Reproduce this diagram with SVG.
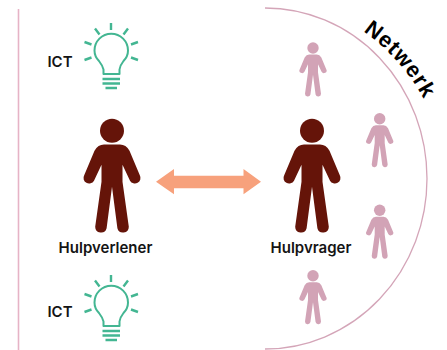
<svg xmlns="http://www.w3.org/2000/svg" width="447" height="350" viewBox="0 0 447 350">
<style>
.lbl{font-family:"Inter","Liberation Sans",sans-serif;font-weight:600;font-size:15px;fill:#141414;text-anchor:middle}
.bulb{fill:none;stroke:#43b692;stroke-width:2;stroke-linejoin:round}
.ray{stroke:#43b692;stroke-width:2.400;fill:none}
</style>
<defs>
<g id="person">
<circle cx="0" cy="0" r="12" fill="currentColor"/>
<path fill="currentColor" d="M-8 13.700H8Q14 13.700 17.500 20L27.800 44.500A5.300 5.300 0 0 1 18 50L10.500 34V51L16.800 96A5.800 5.800 0 0 1 5.400 97.500L0 56-5.400 97.500A5.800 5.800 0 0 1-16.800 96L-10.500 51V34L-18 50A5.300 5.300 0 0 1-27.800 44.500L-17.500 20Q-14 13.700-8 13.700Z"/>
</g>
<g id="bulbicon">
<path class="bulb" d="M103.500 74V69.500Q102.500 65.500 99 61Q94.500 56.500 94.500 50.500A16.700 16.700 0 0 1 128 50.500Q128 56.500 123.500 61Q120 65.500 119.500 69.500V74Z"/>
<path class="ray" d="M111 23V30M95 28.500L99.500 34.500M128 28.500L123.500 34.500M84.500 42L91.500 44.500M138 42L131 44.500M84.500 60L91.500 57.500M138 60L131 57.500M102.500 79H120M102.500 83.500H120M105.500 88H117"/>
</g>
<path id="netcurve" d="M363 31Q409 64 431 114"/>
</defs>
<g id="connectors">
<path d="M18.500 9V350" fill="none" stroke="#e6b3c6" stroke-width="1.600"/>
<path d="M265 8A162 170.500 0 0 1 265 349" fill="none" stroke="#d4a5b8" stroke-width="1.300"/>
<path id="arrow" d="M156 181.700L174 169V175.700H243.500V169L261 181.700 243.500 194.300V188.300H174V194.300Z" fill="#f7a17c"/>
</g>
<g id="hulpverlener" style="color:#651409">
<use href="#person" x="112" y="130.700"/>
<text class="lbl" x="105.500" y="252.700">Hulpverlener</text>
</g>
<g id="hulpvrager" style="color:#651409">
<use href="#person" x="312" y="130.700"/>
<text class="lbl" x="311" y="252.700">Hulpvrager</text>
</g>
<g id="ict-top"><use href="#bulbicon"/><text class="lbl" x="60" y="66.500">ICT</text></g>
<g id="ict-bottom"><use href="#bulbicon" y="252"/><text class="lbl" x="60" y="317">ICT</text></g>
<g id="net-1" style="color:#d2a3b6"><use href="#person" transform="translate(313 48) scale(.476)"/></g>
<g id="net-2" style="color:#d2a3b6"><use href="#person" transform="translate(379.700 118.700) scale(.476)"/></g>
<g id="net-3" style="color:#d2a3b6"><use href="#person" transform="translate(379.700 210.300) scale(.476)"/></g>
<g id="net-4" style="color:#d2a3b6"><use href="#person" transform="translate(313 275.700) scale(.476)"/></g>
<g id="netwerk"><text font-family="Liberation Sans,sans-serif" font-weight="700" font-size="22" letter-spacing="1" fill="#000"><textPath href="#netcurve">Netwerk</textPath></text></g>
</svg>
